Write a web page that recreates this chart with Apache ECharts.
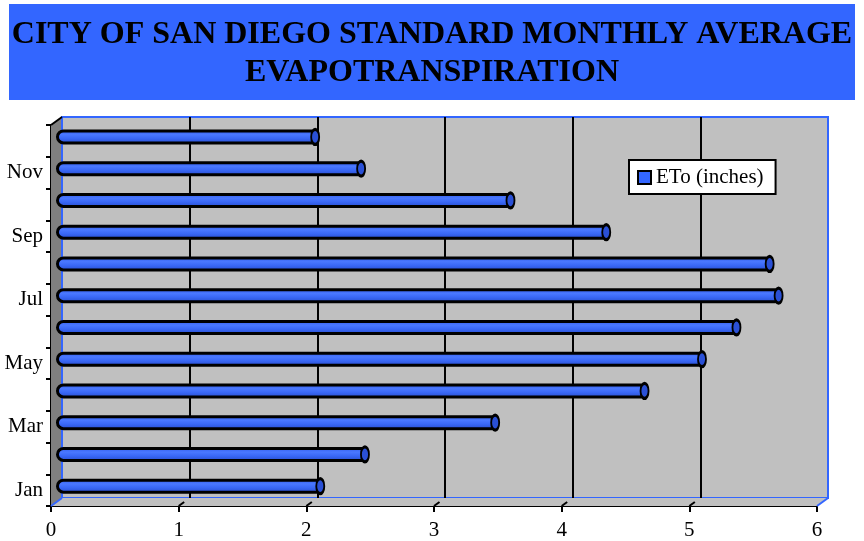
<!DOCTYPE html>
<html>
<head>
    <meta charset="utf-8">
    <title>ETo</title>
    <style>
        body { margin: 0; background: #fff; }
    </style>
</head>
<body>
    <div id="main" style="width: 864px;height:541px;"></div>
    <script src="https://cdn.jsdelivr.net/npm/echarts@6/dist/echarts.min.js"></script>
    <script>
        var months = ['Jan', 'Feb', 'Mar', 'Apr', 'May', 'Jun', 'Jul', 'Aug', 'Sep', 'Oct', 'Nov', 'Dec'];
        var eto = [2.07, 2.42, 3.44, 4.61, 5.06, 5.33, 5.66, 5.59, 4.31, 3.56, 2.39, 2.03];
        var xTicks = [0, 1, 2, 3, 4, 5, 6];

        var serif = '"Liberation Serif", "Times New Roman", serif';
        var blue = '#3366ff';

        var myChart = echarts.init(document.getElementById('main'), null, { renderer: 'canvas' });

        var capData = eto.map(function (v, i) {
            return [v, months[i]];
        });

        var hidden = { show: false };

        option = {
            animation: false,
            backgroundColor: '#fff',
            title: {
                text: 'CITY OF SAN DIEGO STANDARD MONTHLY AVERAGE\nEVAPOTRANSPIRATION',
                left: 'center',
                top: 11,
                textStyle: {
                    fontFamily: serif,
                    fontWeight: 'bold',
                    fontSize: 32,
                    lineHeight: 38,
                    color: '#000'
                }
            },
            legend: {
                data: [{
                    name: 'ETo (inches)',
                    itemStyle: { color: blue, borderColor: '#000', borderWidth: 2 }
                }],
                icon: 'rect',
                left: 629,
                top: 160,
                itemWidth: 13,
                itemHeight: 13,
                itemGap: 5,
                padding: [7, 12, 6, 8],
                backgroundColor: '#fff',
                borderColor: '#000',
                borderWidth: 2,
                textStyle: { fontFamily: serif, fontSize: 21, color: '#000' }
            },
            grid: [
                // back wall
                { left: 62, right: 36, top: 117, bottom: 43, show: true, backgroundColor: '#c0c0c0', borderColor: blue, borderWidth: 2 },
                // bars (mid depth)
                { left: 56, right: 42, top: 121, bottom: 39 },
                // front axes
                { left: 51, right: 47, top: 125, bottom: 35 }
            ],
            xAxis: [{
                    type: 'value', gridIndex: 0, min: 0, max: 6, interval: 1,
                    axisLine: hidden, axisTick: hidden, axisLabel: hidden,
                    splitLine: { show: true, showMinLine: false, showMaxLine: false, lineStyle: { color: '#000', width: 2 } }
                },
                {
                    type: 'value', gridIndex: 1, min: 0, max: 6, interval: 1,
                    axisLine: hidden, axisTick: hidden, axisLabel: hidden, splitLine: hidden
                },
                {
                    type: 'value', gridIndex: 2, min: 0, max: 6, interval: 1,
                    axisLine: { show: true, lineStyle: { color: '#000', width: 2 } },
                    axisTick: { show: true, length: 6, lineStyle: { color: '#000', width: 2 } },
                    axisLabel: { color: '#000', fontFamily: serif, fontSize: 21, margin: 14 },
                    splitLine: hidden
                }
            ],
            yAxis: [{
                    type: 'category', gridIndex: 0, data: months,
                    axisLine: hidden, axisTick: hidden, axisLabel: hidden, splitLine: hidden
                },
                {
                    type: 'category', gridIndex: 1, data: months,
                    axisLine: hidden, axisTick: hidden, axisLabel: hidden, splitLine: hidden
                },
                {
                    type: 'category', gridIndex: 2, data: months,
                    axisLine: { show: true, lineStyle: { color: '#000', width: 2 } },
                    axisTick: { show: true, interval: 0, length: 5, lineStyle: { color: '#000', width: 2 } },
                    axisLabel: { interval: 1, color: '#000', fontFamily: serif, fontSize: 21, margin: 8 },
                    splitLine: hidden
                }
            ],
            series: [{
                    name: 'ETo (inches)',
                    type: 'bar',
                    xAxisIndex: 1,
                    yAxisIndex: 1,
                    barWidth: 15,
                    data: eto,
                    itemStyle: {
                        color: new echarts.graphic.LinearGradient(0, 0, 0, 1, [
                            { offset: 0, color: '#2d58e6' },
                            { offset: 0.35, color: '#4a78ff' },
                            { offset: 0.6, color: '#3a68f6' },
                            { offset: 1, color: '#2449c8' }
                        ]),
                        borderColor: '#000',
                        borderWidth: 3,
                        borderRadius: [7, 2, 2, 7]
                    },
                    z: 3
                },
                {
                    name: 'cap',
                    type: 'scatter',
                    xAxisIndex: 1,
                    yAxisIndex: 1,
                    symbol: 'circle',
                    symbolSize: [8, 15],
                    data: capData,
                    itemStyle: { color: '#2a50d6', borderColor: '#000', borderWidth: 2.5, opacity: 1 },
                    silent: true,
                    z: 4
                }
            ]
        };

        myChart.setOption(option);

        // 3D walls, floor and tick tails, placed from the axes
        var dx = 11, dy = -8;
        var p0 = myChart.convertToPixel({ gridIndex: 2 }, [0, 'Jan']);
        var p6 = myChart.convertToPixel({ gridIndex: 2 }, [6, 'Jan']);
        var x0 = p0[0], x6 = p6[0];
        var rect = myChart.getModel().getComponent('grid', 2).coordinateSystem.getRect();
        var yb = rect.y + rect.height, yt = rect.y;

        var graphics = [{
                type: 'rect', z: -10,
                shape: { x: 9, y: 4, width: 846, height: 96 },
                style: { fill: blue }
            },
            {
                type: 'polygon', z: 1,
                shape: { points: [[x0, yt], [x0 + dx, yt + dy], [x0 + dx, yb + dy], [x0, yb]] },
                style: { fill: '#808080' }
            },
            {
                type: 'polygon', z: 1,
                shape: { points: [[x0, yb], [x0 + dx, yb + dy], [x6 + dx, yb + dy], [x6, yb]] },
                style: { fill: '#c0c0c0' }
            },
            {
                type: 'line', z: 2,
                shape: { x1: x0 + dx, y1: yt + dy, x2: x0 + dx, y2: yb + dy },
                style: { stroke: blue, lineWidth: 2 }
            },
            {
                type: 'line', z: 2,
                shape: { x1: x0, y1: yt, x2: x0 + dx, y2: yt + dy },
                style: { stroke: '#000', lineWidth: 2 }
            }
        ];
        xTicks.forEach(function (t) {
            var p = myChart.convertToPixel({ gridIndex: 2 }, [t, 'Jan']);
            var edge = (t === 0 || t === 6);
            graphics.push({
                type: 'line', z: 2,
                shape: edge ? { x1: p[0], y1: yb, x2: p[0] + dx, y2: yb + dy } :
                    { x1: p[0], y1: yb, x2: p[0] + dx / 2, y2: yb + dy / 2 },
                style: { stroke: edge ? blue : '#000', lineWidth: 2 }
            });
        });

        myChart.setOption({ graphic: graphics });
    </script>
</body>
</html>
